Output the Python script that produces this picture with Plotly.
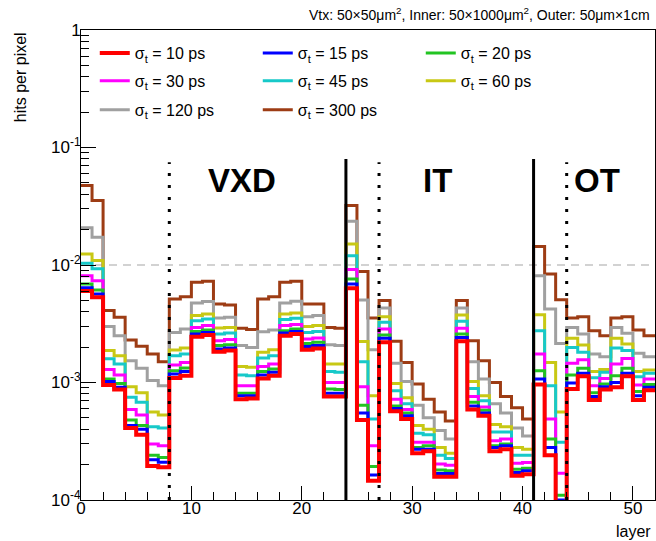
import plotly.graph_objects as go

# Layer index edges (one bin per layer, 52 layers)
layers = list(range(53))

# Hits per pixel for each timing resolution
occ_10ps = [0.0060, 0.00531, 0.00095, 0.00087, 0.00041, 0.00036, 0.000195, 0.00019,
            0.00109, 0.00114, 0.00245, 0.00254, 0.00183, 0.00187, 0.00072, 0.00073,
            0.00108, 0.00114, 0.00250, 0.00259, 0.00190, 0.00195, 0.00076, 0.00076,
            0.00633, 0.00048, 0.000146, 0.00220, 0.00057, 0.00049, 0.00025, 0.00026,
            0.000158, 0.000158, 0.00224, 0.00059, 0.00052, 0.00026, 0.00027, 0.000161,
            0.000166, 0.00096, 0.00024, 0.00009, 0.00088, 0.00113, 0.00071, 0.00087,
            0.00091, 0.00113, 0.00071, 0.00086]
occ_15ps = [0.0064, 0.00567, 0.00102, 0.00091, 0.00043, 0.00040, 0.00022, 0.00021,
            0.00118, 0.00124, 0.00259, 0.00267, 0.00193, 0.00197, 0.00077, 0.00077,
            0.00116, 0.00122, 0.00264, 0.00272, 0.00202, 0.00206, 0.00081, 0.00081,
            0.00690, 0.00055, 0.000163, 0.00238, 0.00060, 0.00052, 0.00027, 0.00027,
            0.000168, 0.000168, 0.00242, 0.00063, 0.00055, 0.00028, 0.00029, 0.000171,
            0.000177, 0.00107, 0.00028, 0.000100, 0.00099, 0.00120, 0.00076, 0.00092,
            0.00100, 0.00120, 0.00077, 0.00091]
occ_20ps = [0.0069, 0.00614, 0.00107, 0.00098, 0.00048, 0.00043, 0.00024, 0.00023,
            0.00126, 0.00133, 0.00272, 0.00280, 0.00206, 0.00210, 0.00081, 0.00081,
            0.00124, 0.00130, 0.00276, 0.00285, 0.00215, 0.00220, 0.00088, 0.00087,
            0.00761, 0.00064, 0.000193, 0.00254, 0.00063, 0.00055, 0.00028, 0.00029,
            0.000180, 0.000177, 0.00259, 0.00068, 0.00058, 0.00029, 0.00030, 0.000183,
            0.000186, 0.00126, 0.00033, 0.000110, 0.00116, 0.00132, 0.00082, 0.00097,
            0.00114, 0.00132, 0.00084, 0.00096]
occ_30ps = [0.0081, 0.00736, 0.00129, 0.00116, 0.00059, 0.00053, 0.00030, 0.00029,
            0.00141, 0.00148, 0.00294, 0.00305, 0.00227, 0.00232, 0.00094, 0.00094,
            0.00137, 0.00144, 0.00305, 0.00311, 0.00235, 0.00239, 0.00100, 0.00100,
            0.00914, 0.00092, 0.00029, 0.00285, 0.00072, 0.00059, 0.00031, 0.00031,
            0.000202, 0.000198, 0.00289, 0.00076, 0.00062, 0.00032, 0.00033, 0.000205,
            0.000209, 0.00175, 0.00049, 0.000169, 0.00146, 0.00156, 0.00094, 0.00108,
            0.00144, 0.00160, 0.00095, 0.00107]
occ_45ps = [0.01035, 0.0093, 0.00159, 0.00144, 0.00075, 0.00068, 0.00042, 0.00041,
            0.00169, 0.00175, 0.00336, 0.00347, 0.00259, 0.00264, 0.00116, 0.00114,
            0.00162, 0.00169, 0.00343, 0.00352, 0.00267, 0.00272, 0.00124, 0.00122,
            0.0120, 0.00150, 0.00049, 0.00325, 0.00085, 0.00066, 0.00037, 0.00036,
            0.00024, 0.000226, 0.00332, 0.00089, 0.00070, 0.00038, 0.00038, 0.00024,
            0.00024, 0.00276, 0.00094, 0.00031, 0.00199, 0.00181, 0.00110, 0.00122,
            0.00197, 0.00187, 0.00112, 0.00120]
occ_60ps = [0.0124, 0.0109, 0.00187, 0.00169, 0.00092, 0.00082, 0.00056, 0.00053,
            0.00189, 0.00197, 0.00371, 0.00383, 0.00291, 0.00294, 0.00137, 0.00135,
            0.00181, 0.00190, 0.00383, 0.00391, 0.00299, 0.00305, 0.00144, 0.00144,
            0.0151, 0.00223, 0.00077, 0.00363, 0.00098, 0.00074, 0.00043, 0.00040,
            0.00028, 0.00025, 0.00376, 0.00102, 0.00077, 0.00044, 0.00042, 0.00028,
            0.00027, 0.00378, 0.00148, 0.00056, 0.00238, 0.00209, 0.00124, 0.00129,
            0.00238, 0.00213, 0.00124, 0.00128]
occ_120ps = [0.0207, 0.0172, 0.0030, 0.00250, 0.00153, 0.00132, 0.00104, 0.00094,
             0.00267, 0.00285, 0.00475, 0.00488, 0.00354, 0.00359, 0.00206, 0.00199,
             0.00271, 0.00280, 0.00475, 0.00491, 0.00363, 0.00371, 0.00210, 0.00206,
             0.0236, 0.00504, 0.00190, 0.00431, 0.00146, 0.00102, 0.00064, 0.00050,
             0.00039, 0.00033, 0.00431, 0.00150, 0.00107, 0.00066, 0.00055, 0.00041,
             0.00035, 0.00812, 0.00423, 0.00215, 0.00294, 0.00259, 0.00175, 0.00166,
             0.00294, 0.00262, 0.00177, 0.00166]
occ_300ps = [0.0475, 0.0354, 0.0041, 0.00359, 0.0023, 0.00203, 0.00175, 0.00150,
             0.00514, 0.00538, 0.00712, 0.00726, 0.00466, 0.00457, 0.00289, 0.00282,
             0.00514, 0.00538, 0.00712, 0.00726, 0.00466, 0.00466, 0.00294, 0.00289,
             0.0321, 0.00879, 0.00354, 0.00498, 0.00224, 0.00148, 0.00097, 0.00072,
             0.00056, 0.00047, 0.00498, 0.00227, 0.00153, 0.00100, 0.00076, 0.00061,
             0.00049, 0.0144, 0.00839, 0.00507, 0.00354, 0.00363, 0.00276, 0.00250,
             0.00354, 0.00363, 0.00280, 0.00250]

resolutions_ps = [10, 15, 20, 30, 45, 60, 120, 300]
series = [occ_10ps, occ_15ps, occ_20ps, occ_30ps, occ_45ps, occ_60ps, occ_120ps, occ_300ps]
colors = ["#ff0000", "#0000ff", "#22c422", "#ff00ff", "#17c9c9", "#c8c814", "#a0a0a0", "#9d3c14"]
widths = [4, 3, 3, 3, 3, 3, 3, 3]

# Sub-detector boundaries (solid) and barrel/endcap splits (dotted)
detector_edges = [24, 41]
barrel_endcap_edges = [8, 27, 44]
region_labels = ["VXD", "IT", "OT"]
region_label_x = [14.6, 32.3, 46.7]
threshold = 0.01

FONT = "Liberation Sans, Arial, Helvetica, sans-serif"

# three legend rows, three entries per row
legend_rows = ["legend", "legend", "legend", "legend2", "legend2", "legend2", "legend3", "legend3"]
row_y = {"legend": 0.951, "legend2": 0.892, "legend3": 0.830}

fig = go.Figure()

# draw in reverse so the finest resolution sits on top
for i in list(range(len(series)))[::-1]:
    vals = series[i]
    fig.add_trace(go.Scatter(
        x=layers, y=vals + [vals[-1]],
        mode="lines", line=dict(color=colors[i], width=widths[i], shape="hv"),
        name="σ<sub>t</sub> = %d ps" % resolutions_ps[i],
        legend=legend_rows[i], legendrank=i + 1,
    ))

shapes = [dict(type="line", xref="x", yref="y", x0=0, x1=52, y0=threshold, y1=threshold,
               line=dict(color="#c4c4c4", width=1.5, dash="8px,6px"), layer="below")]
for xe in detector_edges:
    shapes.append(dict(type="line", xref="x", yref="y", x0=xe, x1=xe, y0=1e-4, y1=0.08,
                       line=dict(color="black", width=3), layer="above"))
for xe in barrel_endcap_edges:
    shapes.append(dict(type="line", xref="x", yref="y", x0=xe, x1=xe, y0=1e-4, y1=0.075,
                       line=dict(color="black", width=3, dash="3px,9px"), layer="above"))

annotations = []
for lab, xl in zip(region_labels, region_label_x):
    annotations.append(dict(x=xl, y=-1.277, xref="x", yref="y", text="<b>%s</b>" % lab,
                            showarrow=False, font=dict(family=FONT, size=33, color="black"),
                            xanchor="center", yanchor="middle"))
annotations.append(dict(x=0.995, y=1.034, xref="paper", yref="paper",
                        text="Vtx: 50×50μm<sup>2</sup>, Inner: 50×1000μm<sup>2</sup>, Outer: 50μm×1cm",
                        showarrow=False, xanchor="right", yanchor="middle",
                        font=dict(family=FONT, size=14, color="black")))
annotations.append(dict(x=-0.106, y=1.0, xref="paper", yref="paper", text="hits per pixel",
                        textangle=-90, showarrow=False, xanchor="center", yanchor="top",
                        font=dict(family=FONT, size=16, color="black")))
annotations.append(dict(x=0.997, y=-0.066, xref="paper", yref="paper", text="layer",
                        showarrow=False, xanchor="right", yanchor="middle",
                        font=dict(family=FONT, size=16, color="black")))

legend_style = dict(orientation="h", x=0.024, xanchor="left", yanchor="middle",
                    entrywidth=118, entrywidthmode="pixels", traceorder="normal",
                    bgcolor="rgba(0,0,0,0)", font=dict(family=FONT, size=16))

fig.update_layout(
    width=656, height=541,
    margin=dict(l=81, r=1, t=30, b=41),
    paper_bgcolor="white", plot_bgcolor="white",
    font=dict(family=FONT, size=16, color="black"),
    shapes=shapes, annotations=annotations,
    legend=dict(legend_style, y=row_y["legend"]),
    legend2=dict(legend_style, y=row_y["legend2"]),
    legend3=dict(legend_style, y=row_y["legend3"]),
    showlegend=True,
)

fig.update_xaxes(
    range=[0, 52], showgrid=False, zeroline=False,
    showline=True, linecolor="black", linewidth=1, mirror=True,
    tickmode="array", tickvals=[0, 10, 20, 30, 40, 50],
    ticks="inside", ticklen=14, tickcolor="black", tickwidth=1,
    ticklabelstandoff=-7,
    minor=dict(tickmode="array", tickvals=list(range(0, 53, 2)), ticks="inside",
               ticklen=8, tickcolor="black", tickwidth=1, showgrid=False),
    tickfont=dict(family=FONT, size=17),
)

fig.update_yaxes(
    type="log", range=[-4, 0], showgrid=False, zeroline=False,
    showline=True, linecolor="black", linewidth=1, mirror=True,
    tickmode="array", tickvals=[1e-4, 1e-3, 1e-2, 1e-1, 1],
    ticktext=["10<sup>-4</sup>", "10<sup>-3</sup>", "10<sup>-2</sup>", "10<sup>-1</sup>", "1"],
    ticks="inside", ticklen=15, tickcolor="black", tickwidth=1,
    ticklabelstandoff=-4,
    minor=dict(tickmode="array",
               tickvals=[m * 10.0 ** e for e in range(-4, 0) for m in range(2, 10)],
               ticks="inside", ticklen=8, tickcolor="black", tickwidth=1, showgrid=False),
    tickfont=dict(family=FONT, size=17),
)

fig.write_html("out.html")
